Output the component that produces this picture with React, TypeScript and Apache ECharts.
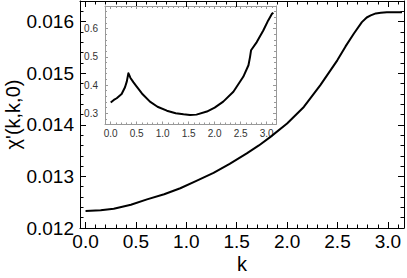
import React, { useEffect, useRef } from "react";
import * as echarts from "echarts";

// main curve: chi'(k,k,0) vs k
const mainK = [0, 0.15, 0.28, 0.45, 0.61, 0.78, 0.94, 1.1, 1.27, 1.43, 1.6, 1.72, 1.835, 2.0, 2.166, 2.33, 2.498, 2.58, 2.663, 2.742, 2.79, 2.83, 2.88, 2.93, 2.99, 3.14];
const mainChi = [0.01233, 0.012342, 0.012372, 0.01245, 0.012555, 0.012655, 0.01277, 0.012915, 0.01307, 0.013245, 0.013445, 0.0136, 0.013766, 0.014025, 0.014346, 0.01477, 0.01525, 0.01552, 0.01577, 0.01599, 0.01608, 0.01612, 0.01616, 0.01617, 0.016184, 0.016184];

// inset curve
const insetK = [0, 0.06, 0.115, 0.21, 0.275, 0.31, 0.34, 0.38, 0.435, 0.5, 0.6, 0.755, 0.9, 1.08, 1.25, 1.4, 1.525, 1.65, 1.85, 2.0, 2.165, 2.36, 2.55, 2.65, 2.68, 2.7, 2.81, 2.935, 3.03, 3.1, 3.13];
const insetChi = [0.338, 0.347, 0.353, 0.368, 0.392, 0.413, 0.442, 0.425, 0.41, 0.394, 0.37, 0.341, 0.323, 0.309, 0.3, 0.296, 0.294, 0.295, 0.306, 0.32, 0.341, 0.376, 0.429, 0.47, 0.499, 0.523, 0.552, 0.593, 0.629, 0.652, 0.656];

const mainXMajor = [0, 0.5, 1.0, 1.5, 2.0, 2.5, 3.0];
const mainYMajor = [0.012, 0.013, 0.014, 0.015, 0.016];
const insetXMajor = [0, 0.5, 1.0, 1.5, 2.0, 2.5, 3.0];
const insetYMajor = [0.3, 0.4, 0.5, 0.6];

function steps(a: number, b: number, s: number, dec: number) {
  const out: number[] = [];
  const n = Math.round((b - a) / s);
  for (let i = 0; i <= n; i++) out.push(+(a + i * s).toFixed(dec));
  return out;
}

const FONT = "Liberation Sans";

function frameAxes(
  dim: "x" | "y",
  gridIndex: number,
  min: number,
  max: number,
  majors: number[],
  minors: number[],
  o: any
) {
  const first = dim === "x" ? "bottom" : "left";
  const second = dim === "x" ? "top" : "right";
  const base = (position: string, vals: number[], len: number, showLine: boolean, label: boolean, extra: any = {}) => ({
    type: "value",
    gridIndex,
    position,
    offset: 0,
    min,
    max,
    axisLine: { show: showLine, onZero: false, lineStyle: { color: o.lineColor, width: 1 } },
    axisTick: { show: true, inside: true, length: len, customValues: vals, lineStyle: { color: o.tickColor, width: 1 } },
    axisLabel: label
      ? {
          show: true,
          inside: false,
          hideOverlap: false,
          customValues: majors,
          formatter: o.formatter,
          fontSize: o.fontSize,
          color: o.labelColor,
          fontFamily: FONT,
          margin: o.margin,
        }
      : { show: false },
    splitLine: { show: false },
    ...extra,
  });
  return [
    base(first, majors, o.major, true, true, o.nameOpts || {}),
    base(first, minors, o.minor, false, false),
    base(second, majors, o.major, true, false),
    base(second, minors, o.minor, false, false),
  ];
}

export default function App() {
  const ref = useRef<HTMLDivElement>(null);
  useEffect(() => {
    if (!ref.current) return;
    const chart = echarts.init(ref.current, null, { renderer: "svg" });
    const mainStyle = { lineColor: "#000", tickColor: "#000", labelColor: "#000", fontSize: 19, major: 6, minor: 3.5 };
    const insetStyle = { lineColor: "#999", tickColor: "#999", labelColor: "#333", fontSize: 10, major: 3, minor: 2 };
    const xAxes = [
      ...frameAxes("x", 0, -0.055, 3.16, mainXMajor, steps(0, 3.1, 0.1, 1), {
        ...mainStyle,
        margin: 4,
        formatter: (v: number) => v.toFixed(1),
        nameOpts: {
          name: "k",
          nameLocation: "middle",
          nameGap: 26,
          nameMoveOverlap: false,
          nameTextStyle: { fontSize: 20, fontFamily: FONT, color: "#000" },
        },
      }),
      ...frameAxes("x", 1, -0.11, 3.18, insetXMajor, steps(-0.1, 3.1, 0.1, 1), {
        ...insetStyle,
        margin: 4,
        formatter: (v: number) => v.toFixed(1),
      }),
    ];
    const yAxes = [
      ...frameAxes("y", 0, 0.012, 0.0164, mainYMajor, steps(0.012, 0.0164, 0.0002, 4), {
        ...mainStyle,
        margin: 6,
        formatter: (v: number) => v.toFixed(3),
        nameOpts: {
          name: "χ'(k,k,0)",
          nameLocation: "middle",
          nameGap: 57,
          nameMoveOverlap: false,
          nameTextStyle: { fontSize: 20, fontFamily: FONT, color: "#000" },
        },
      }),
      ...frameAxes("y", 1, 0.26, 0.68, insetYMajor, steps(0.26, 0.68, 0.02, 2), {
        ...insetStyle,
        margin: 7,
        formatter: (v: number) => v.toFixed(1),
      }),
    ];
    chart.setOption({
      animation: false,
      backgroundColor: "#fff",
      grid: [
        { left: 80, right: 3, top: 1, bottom: 50, containLabel: false, outerBoundsMode: "none" },
        { left: 105, width: 171, top: 6, height: 118.5, containLabel: false, outerBoundsMode: "none" },
      ],
      xAxis: xAxes,
      yAxis: yAxes,
      series: [
        {
          type: "line",
          xAxisIndex: 0,
          yAxisIndex: 0,
          data: mainK.map((k, i) => [k, mainChi[i]]),
          smooth: false,
          showSymbol: false,
          lineStyle: { color: "#000", width: 2, join: "round" },
        },
        {
          type: "line",
          xAxisIndex: 4,
          yAxisIndex: 4,
          data: insetK.map((k, i) => [k, insetChi[i]]),
          smooth: false,
          showSymbol: false,
          lineStyle: { color: "#000", width: 2, join: "round" },
        },
      ],
    });
    return () => chart.dispose();
  }, []);
  return <div ref={ref} style={{ position: "fixed", left: 0, top: 0, width: 407, height: 278 }} />;
}
